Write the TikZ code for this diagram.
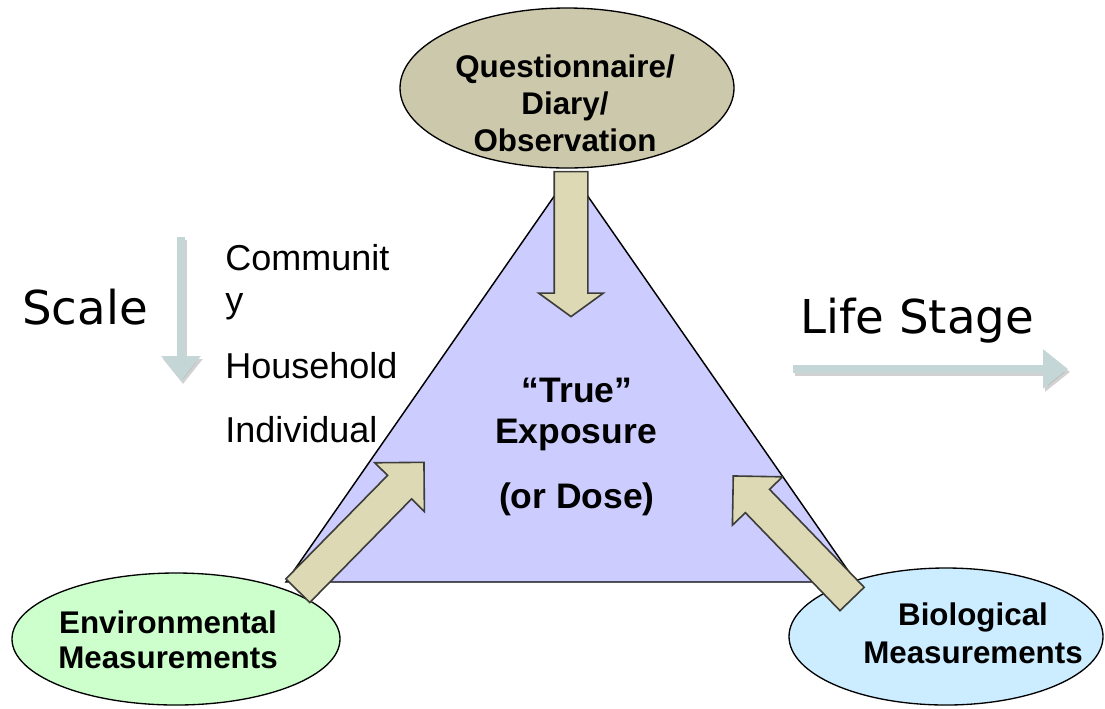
\documentclass[tikz,border=0pt]{standalone}
\usepackage{fontspec}
\setmainfont{Liberation Sans}
\newfontfamily\verdanafont{DejaVu Sans}
\usepackage{tikz}
\usetikzlibrary{shapes.geometric,shapes.arrows,arrows.meta}

\definecolor{trifill}{RGB}{204,204,255}
\definecolor{questfill}{RGB}{204,200,171}
\definecolor{envfill}{RGB}{204,255,204}
\definecolor{biofill}{RGB}{204,236,255}
\definecolor{blockfill}{RGB}{221,217,180}
\definecolor{blockline}{RGB}{60,60,56}
\definecolor{scalecol}{RGB}{196,214,214}

\tikzset{
  measure/.style={ellipse, draw=black, line width=1pt, inner sep=0pt},
  blockarrow/.style={single arrow, draw=blockline, fill=blockfill, line width=1.2pt,
    inner sep=0pt, inner ysep=12pt, single arrow tip angle=90},
  flowarrow/.style={draw=scalecol, line width=6pt, -{Triangle[length=18.75pt,width=28.5pt]}},
  flowshadow/.style={draw=black, opacity=0.18, line width=6pt, -{Triangle[length=18.75pt,width=28.5pt]}},
  etext/.style={font=\bfseries\fontsize{23.5}{27}\selectfont, inner sep=0pt, anchor=base},
  ctext/.style={font=\bfseries\fontsize{26.6}{31}\selectfont, inner sep=0pt, anchor=base},
  ltext/.style={font=\fontsize{27}{31}\selectfont, inner sep=0pt, anchor=base west},
  vtext/.style={font=\verdanafont\fontsize{35}{42}\selectfont, inner sep=0pt, anchor=base west}
}

\begin{document}
\begin{tikzpicture}[x=0.75pt,y=0.75pt,yscale=-1,xscale=1]
\useasboundingbox (0,0) rectangle (1105,708);

%Triangle
\coordinate (apex) at (571,172);
\coordinate (leftcorner) at (286,582);
\coordinate (rightcorner) at (856,582);
\draw [fill=trifill, line width=1.1pt] (leftcorner) -- (apex) -- (rightcorner) -- cycle;

%Ellipses
\node [measure, fill=questfill, minimum width=250.5pt, minimum height=120pt] (quest) at (567,88) {};
\node [measure, fill=envfill, minimum width=246pt, minimum height=99pt] (envir) at (176,639) {};
\node [measure, fill=biofill, minimum width=235.5pt, minimum height=102.75pt] (bio) at (946,636.5) {};

%Block Arrows
\node [blockarrow, minimum height=108.75pt, single arrow head extend=11.6pt, single arrow tip angle=108, rotate=-90] (questarrow) at (571,238) {};
\node [blockarrow, minimum height=135pt, single arrow head extend=13.5pt, rotate=45.5] (envarrow) at (355,532.5) {};
\node [blockarrow, minimum height=128.25pt, single arrow head extend=13.5pt, rotate=134] (bioarrow) at (798.5,543.5) {};

%Scale and Life Stage arrows
\coordinate (scaletop) at (181,237);
\coordinate (scalebot) at (181,381);
\coordinate (lifeleft) at (793,369);
\coordinate (liferight) at (1068,369);
\draw [flowshadow] ([shift={(2,3)}]scaletop) -- ([shift={(2,3)}]scalebot);
\draw [flowarrow] (scaletop) -- (scalebot);
\draw [flowshadow] ([shift={(2,3)}]lifeleft) -- ([shift={(2,3)}]liferight);
\draw [flowarrow] (lifeleft) -- (liferight);

% Text Node
\node [etext] (questa) at (565,77) {Questionnaire/};
\node [etext] (questb) at (565,114) {Diary/};
\node [etext] (questc) at (565,151) {Observation};
% Text Node
\node [etext] (enva) at (168,633) {Environmental};
\node [etext] (envb) at (168,668) {Measurements};
% Text Node
\node [etext] (bioa) at (973,625) {Biological};
\node [etext] (biob) at (973,663) {Measurements};
% Text Node
\node [ctext] (truea) at (577,402) {“True”};
\node [ctext] (trueb) at (576,443) {Exposure};
\node [ctext] (truec) at (577,508) {(or Dose)};
% Text Node
\node [ltext] (comm) at (225,270) {Communit};
\node [ltext] (commy) at (225,312) {y};
\node [ltext] (house) at (225,378) {Household};
\node [ltext] (indiv) at (225,442) {Individual};
% Text Node
\node [vtext] (scale) at (22,324) {Scale};
\node [vtext] (life) at (800,333) {Life Stage};

\end{tikzpicture}
\end{document}
